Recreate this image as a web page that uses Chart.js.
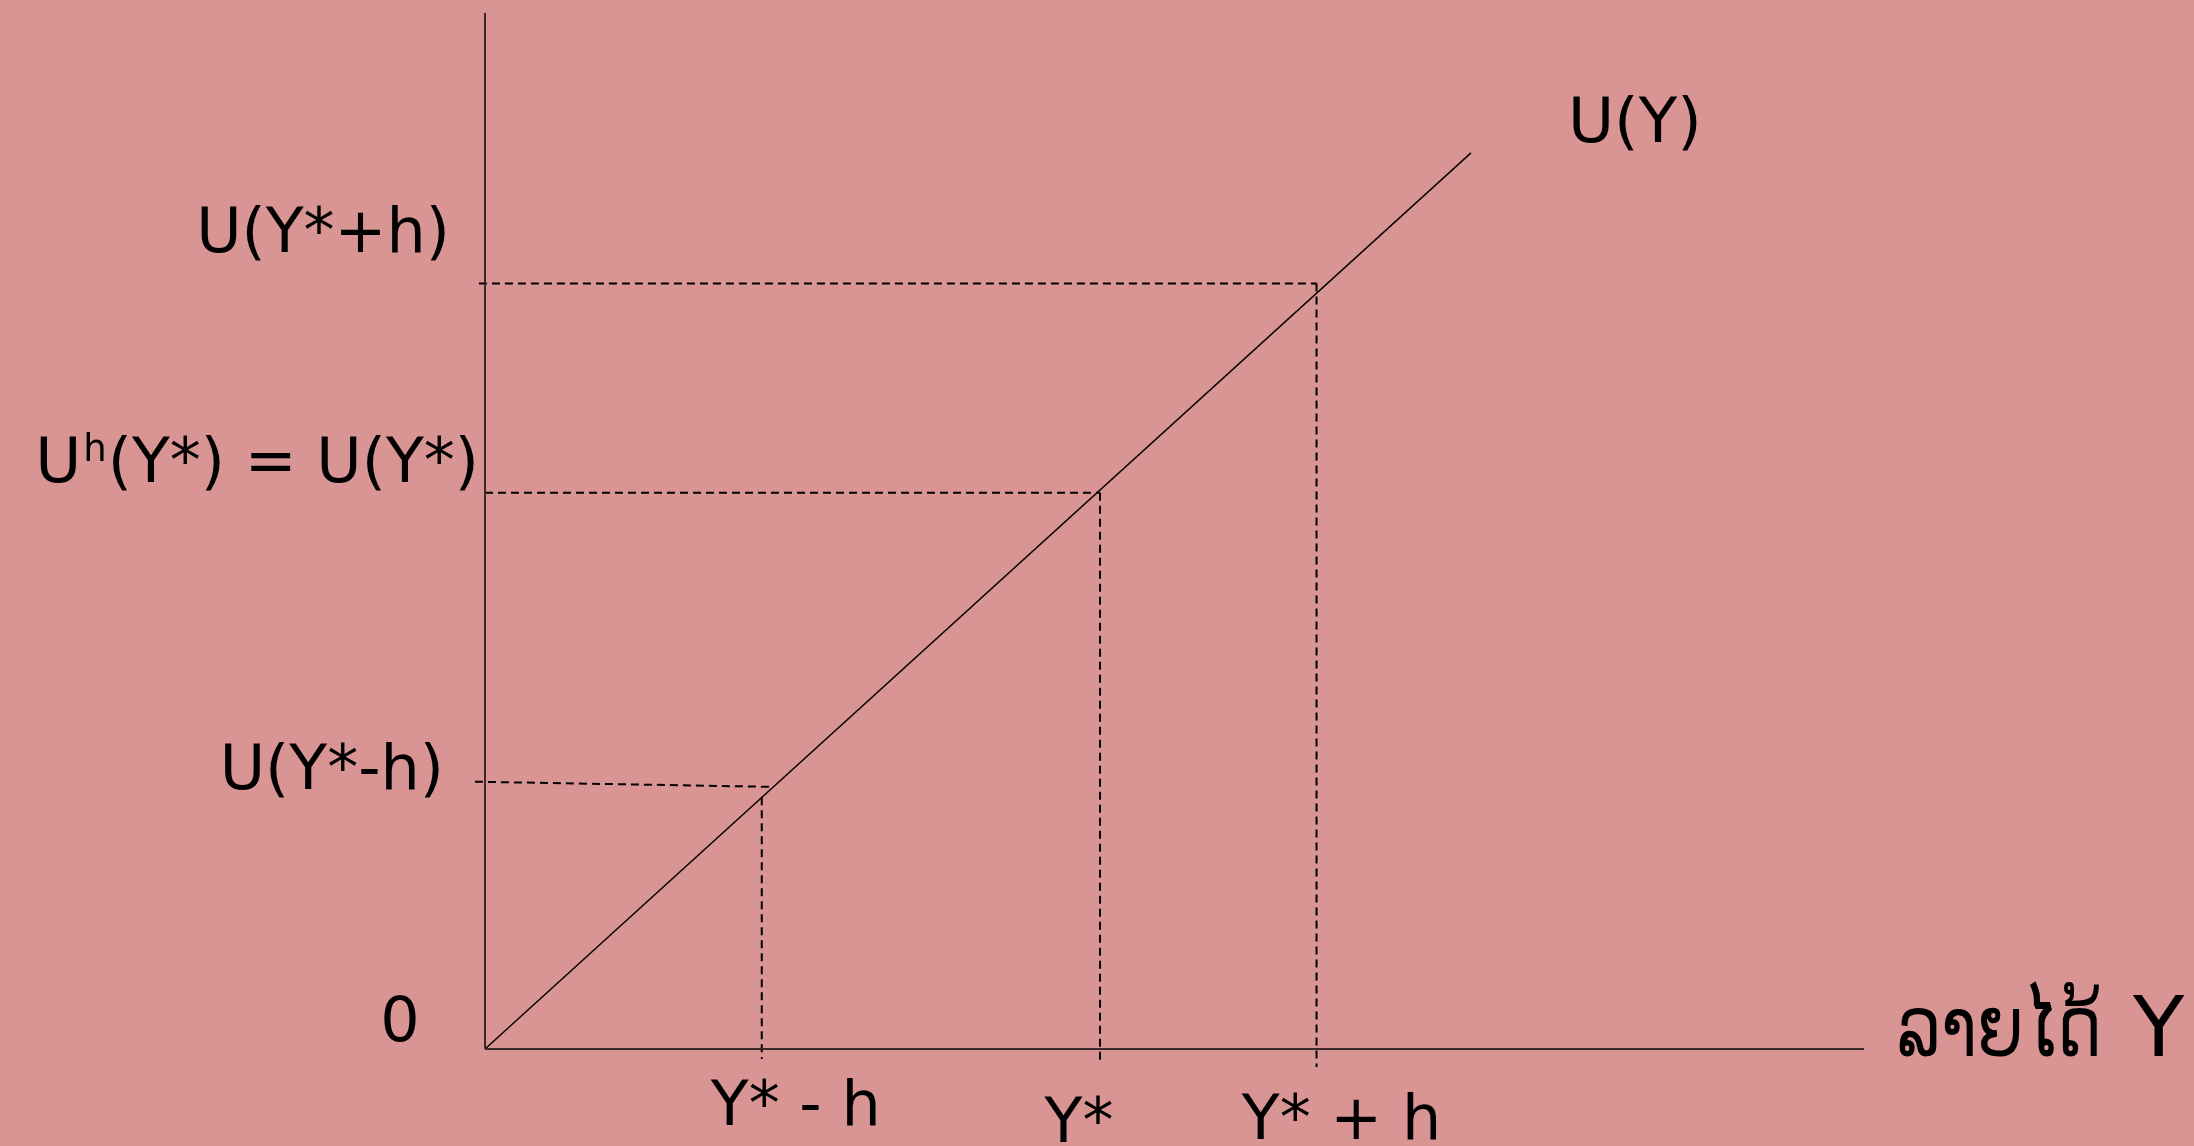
<!DOCTYPE html>
<html>
<head>
<meta charset="utf-8">
<script src="https://cdn.jsdelivr.net/npm/chart.js@4/dist/chart.umd.min.js"></script>
<style>
  html, body { margin: 0; padding: 0; background: #D99594; }
  #wrap { width: 2194px; height: 1146px; }
</style>
</head>
<body>
<div id="wrap"><canvas id="c" width="2194" height="1146"></canvas></div>
<script>
// ---- data (chart units: income on x, utility on y, both 0..100) ----
const xTickValues = [20.07, 44.6, 60.3];            // Y*-h, Y*, Y*+h
const xTickLabels = ['Y* - h', 'Y*', 'Y* + h'];
const uLeftValues = [25.8, 53.7, 73.9];              // utility where dashed lines meet the y axis
const uRightValues = [25.3, 53.7, 73.9];             // utility where dashed lines end at the curve
const uVertTop = [24.3, 53.7, 73.9];                 // top of vertical dashed lines
const guideStartX = [-0.73, 0, -0.44];               // horizontal dashed start
const guideEndX = [20.9, 44.6, 60.3];                // horizontal dashed end
const vertBottom = [-0.97, -1.35, -1.74];            // vertical dashed lines extend below axis
const yTickLabels = ['U(Y*-h)', 'U(Y*) = U(Y*)', 'U(Y*+h)'];
const curveX = [0, 71.5];
const curveY = [0, 86.5];
const curveLabel = 'U(Y)';
const originLabel = '0';
const xAxisTitleLao = 'ລາຍໄດ້';
const xAxisTitleVar = 'Y';
const axisMax = 100;

const datasets = [];
// axes
datasets.push({ data: [{x: 0, y: 0}, {x: 0, y: axisMax}], borderColor: '#3b2a2a', borderWidth: 2 });
datasets.push({ data: [{x: 0, y: 0}, {x: axisMax, y: 0}], borderColor: '#3b2a2a', borderWidth: 2 });
// utility curve
datasets.push({ data: curveX.map((x, i) => ({x, y: curveY[i]})), borderColor: '#000', borderWidth: 1.4 });
// dashed guides
for (let i = 0; i < xTickValues.length; i++) {
  datasets.push({ data: [{x: guideStartX[i], y: uLeftValues[i]}, {x: guideEndX[i], y: uRightValues[i]}],
    borderColor: '#000', borderWidth: 2, borderDash: [8, 5] });
  datasets.push({ data: [{x: xTickValues[i], y: uVertTop[i]}, {x: xTickValues[i], y: vertBottom[i]}],
    borderColor: '#000', borderWidth: 2, borderDash: [8, 5] });
}
datasets.forEach(d => { d.showLine = true; d.pointRadius = 0; d.clip = false; d.fill = false; d.tension = 0; });

const FONT = '"DejaVu Sans", "Liberation Sans", sans-serif';

const labelPlugin = {
  id: 'labels',
  afterDatasetsDraw(chart) {
    const ctx = chart.ctx;
    const xs = chart.scales.x, ys = chart.scales.y;
    ctx.save();
    ctx.fillStyle = '#000';
    ctx.textBaseline = 'alphabetic';
    ctx.font = '62px ' + FONT;

    // x tick labels (offsets from the tick position, px)
    const xOff = [[34, 1125], [-21, 1142], [25, 1139]];
    ctx.textAlign = 'center';
    xTickLabels.forEach((t, i) => {
      ctx.fillText(t, xs.getPixelForValue(xTickValues[i]) + xOff[i][0], xOff[i][1]);
    });

    // y labels, right aligned
    ctx.textAlign = 'right';
    ctx.fillText(yTickLabels[0], 444, ys.getPixelForValue(uLeftValues[0]) + 7);
    ctx.fillText(yTickLabels[2], 450, ys.getPixelForValue(uLeftValues[2]) - 31);
    // U^h(Y*) = U(Y*) with superscript
    {
      const base = ys.getPixelForValue(uLeftValues[1]) - 11;
      const rest = yTickLabels[1].slice(1);
      const right = 479;
      const wRest = ctx.measureText(rest).width;
      ctx.font = '37px ' + FONT;
      const wSup = ctx.measureText('h').width;
      ctx.font = '63px ' + FONT;
      const wU = ctx.measureText('U').width;
      ctx.textAlign = 'left';
      const start = right - wRest - wSup - wU - 3;
      ctx.fillText('U', start, base);
      ctx.font = '37px ' + FONT;
      ctx.fillText('h', start + wU + 2, base - 21);
      ctx.font = '62px ' + FONT;
      ctx.fillText(rest, start + wU + wSup + 3, base);
    }
    // origin
    ctx.textAlign = 'center';
    ctx.fillText(originLabel, 400, 1041);
    // curve label
    ctx.textAlign = 'left';
    ctx.font = '63px ' + FONT;
    ctx.fillText(curveLabel, 1568, 142);
    // x-axis title
    ctx.font = '84px ' + FONT;
    ctx.fillText(xAxisTitleLao, 1897, 1056, 205);
    ctx.fillText(xAxisTitleVar, 2133, 1056);
    ctx.restore();
  }
};

new Chart(document.getElementById('c'), {
  type: 'scatter',
  data: { datasets },
  options: {
    responsive: false,
    animation: false,
    events: [],
    layout: { padding: { left: 485, right: 330, top: 13, bottom: 97 } },
    plugins: { legend: { display: false }, tooltip: { enabled: false } },
    scales: {
      x: { type: 'linear', min: 0, max: axisMax, display: false },
      y: { type: 'linear', min: 0, max: axisMax, display: false }
    }
  },
  plugins: [labelPlugin]
});
</script>
</body>
</html>
